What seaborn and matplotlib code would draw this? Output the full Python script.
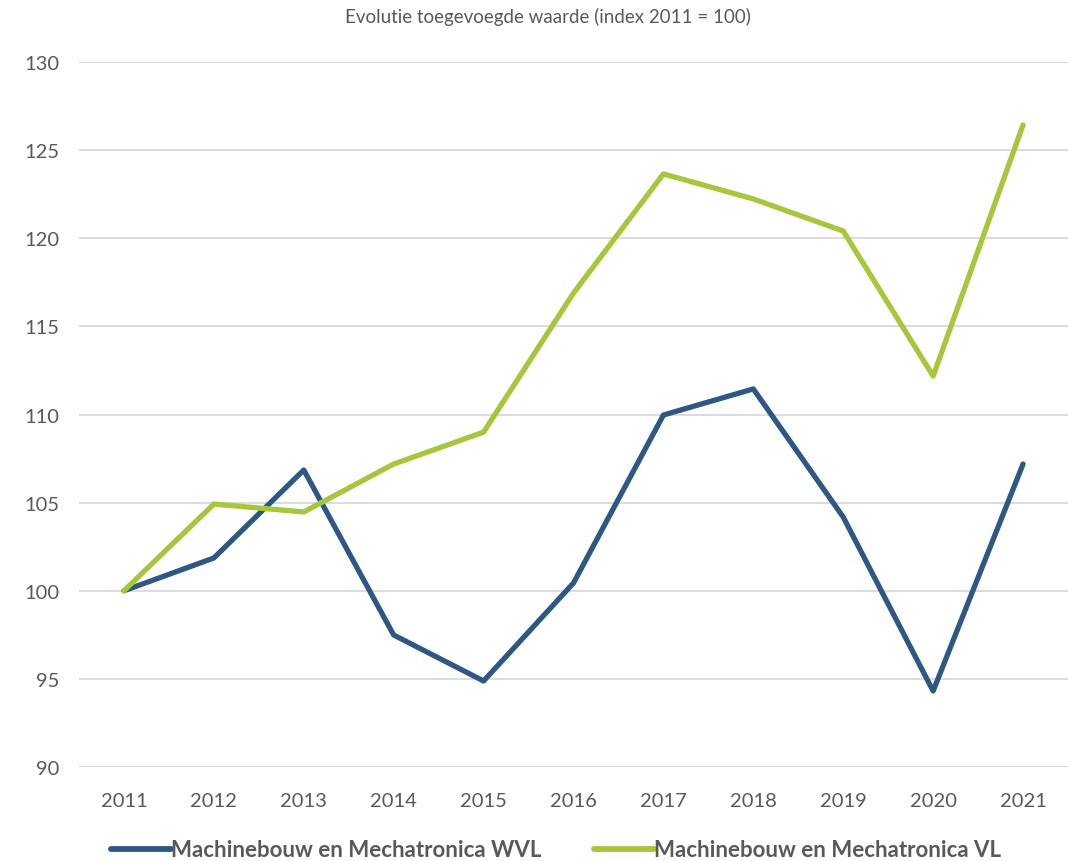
import matplotlib
matplotlib.use("Agg")
import matplotlib.pyplot as plt
import seaborn as sns
import pandas as pd

years = [2011, 2012, 2013, 2014, 2015, 2016, 2017, 2018, 2019, 2020, 2021]
wvl = [100.0, 101.86, 106.85, 97.49, 94.88, 100.44, 109.97, 111.45, 104.18, 94.31, 107.19]
vl = [100.0, 104.92, 104.47, 107.19, 109.0, 116.89, 123.65, 122.23, 120.41, 112.18, 126.43]
series_names = ["Machinebouw en Mechatronica WVL", "Machinebouw en Mechatronica VL"]
colors = ["#2F5783", "#A6C63C"]

df = pd.concat([
    pd.DataFrame({"jaar": years, "index": wvl, "reeks": series_names[0]}),
    pd.DataFrame({"jaar": years, "index": vl, "reeks": series_names[1]}),
])

sns.set_theme(style="white")
plt.rcParams["font.family"] = ["Lato", "DejaVu Sans"]

fig = plt.figure(figsize=(10.68, 8.62), dpi=100)
ax = fig.add_axes([79 / 1068, 1 - 768 / 862, 989 / 1068, 705 / 862])

sns.lineplot(data=df, x="jaar", y="index", hue="reeks", palette=colors,
             linewidth=3.8, ax=ax, legend=False, zorder=3)

ax.set_xlim(2010.5, 2021.5)
ax.set_ylim(90, 130)
ax.set_yticks(range(90, 131, 5))
ax.set_xticks(years)
ax.set_xticklabels([str(y) for y in years])
ax.yaxis.grid(True, color="#D9D9D9", linewidth=1.3)
ax.xaxis.grid(False)
for s in ax.spines.values():
    s.set_visible(False)
ax.tick_params(axis="both", length=0, labelsize=14.5, colors="#595959", labelcolor="#595959")
ax.tick_params(axis="x", pad=18)
ax.tick_params(axis="y", pad=14)
ax.set_xlabel("")
ax.set_ylabel("")

fig.text(548 / 1068, 1 - 17 / 862, "Evolutie toegevoegde waarde (index 2011 = 100)",
         ha="center", va="center", fontsize=13.5, color="#595959")

handles = [plt.Line2D([], [], color=c, linewidth=4.2) for c in colors]
leg = fig.legend(handles, series_names, loc="center", bbox_to_anchor=(556 / 1068, 1 - 851 / 862),
                 ncol=2, frameon=False, handlelength=2.7, handletextpad=0.0, columnspacing=2.4,
                 prop={"weight": "bold", "size": 16})
for t in leg.get_texts():
    t.set_color("#595959")

fig.savefig("out.png", dpi=100)
